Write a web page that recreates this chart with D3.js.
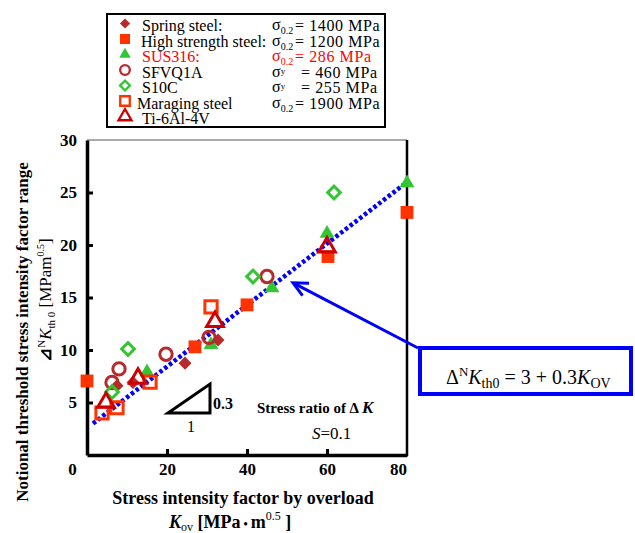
<!DOCTYPE html>
<html>
<head>
<meta charset="utf-8">
<script src="https://cdn.jsdelivr.net/npm/d3@7"></script>
<style>
  body { margin: 0; background: #fff; }
  svg { display: block; font-family: 'Liberation Serif', 'Times New Roman', serif; }
</style>
</head>
<body>
<svg id="chart" width="635" height="533"></svg>
<script>
// series values (K_ov, notional dKth0)
const springX = [7.5, 11.5, 24.5, 32.75];
const springY = [6.6, 6.9, 8.75, 10.95];
const highX = [0, 27, 40, 60.25, 80];
const highY = [7.05, 10.3, 14.3, 18.9, 23.1];
const susX = [15, 31, 46.25, 60, 80];
const susY = [7.9, 10.5, 15.9, 21.1, 25.9];
const sfvqX = [6.25, 8, 19.75, 30.5, 45];
const sfvqY = [6.9, 8.2, 9.6, 11.2, 17.0];
const s10cX = [6.25, 10.25, 41.5, 61.75];
const s10cY = [6.0, 10.1, 17.0, 25.0];
const maragingX = [3.75, 7.5, 15.75, 31];
const maragingY = [4.0, 4.5, 6.95, 14.1];
const tiX = [4.75, 12.75, 32, 60];
const tiY = [5.0, 7.3, 12.7, 19.8];

// fit line (dotted)
const fitX = [1.5, 79];
const fitY = [3.0, 25.7];

const xTicks = [0, 20, 40, 60, 80];
const yTicks = [5, 10, 15, 20, 25, 30];

const materials = ['Spring steel:', 'High strength steel:', 'SUS316:', 'SFVQ1A', 'S10C', 'Maraging steel', 'Ti-6Al-4V'];
const strengthSub = ['0.2', '0.2', '0.2', 'y', 'y', '0.2', null];
const strengthVal = ['= 1400 MPa', '= 1200 MPa', '= 286 MPa', '= 460 MPa', '= 255 MPa', '= 1900 MPa', null];

const series = [
  { xs: springX, ys: springY, shape: 'diamond', fill: '#b8292b', stroke: 'none', size: 85 },
  { xs: highX, ys: highY, shape: 'square', fill: '#ff3300', stroke: 'none', size: 165 },
  { xs: susX, ys: susY, shape: 'triangle', fill: '#33c633', stroke: 'none', size: 95 },
  { xs: sfvqX, ys: sfvqY, shape: 'circle', fill: 'none', stroke: '#b8292b', size: 120 },
  { xs: s10cX, ys: s10cY, shape: 'diamond', fill: 'none', stroke: '#33c633', size: 80 },
  { xs: maragingX, ys: maragingY, shape: 'square', fill: 'none', stroke: '#ff3300', size: 150 },
  { xs: tiX, ys: tiY, shape: 'triangle', fill: 'none', stroke: '#cc0000', size: 120 },
];

const svg = d3.select('#chart');
const x = d3.scaleLinear().domain([0, 80]).range([87, 407]);
const y = d3.scaleLinear().domain([0, 30]).range([455, 140]);

const symbolType = { square: d3.symbolSquare, diamond: d3.symbolSquare, triangle: d3.symbolTriangle, circle: d3.symbolCircle };

function drawMark(g, s, px, py, scale) {
  const path = d3.symbol().type(symbolType[s.shape]).size(s.size * scale * scale)();
  g.append('path')
    .attr('d', path)
    .attr('transform', `translate(${px},${py})${s.shape === 'diamond' ? ' rotate(45)' : ''}`)
    .attr('fill', s.fill)
    .attr('stroke', s.stroke)
    .attr('stroke-width', s.stroke === 'none' ? 0 : 3 * scale);
}

// frame
svg.append('line').attr('x1', x(0)).attr('x2', x(80)).attr('y1', y(30)).attr('y2', y(30))
  .attr('stroke', '#555').attr('stroke-width', 1);
svg.append('line').attr('x1', x(80)).attr('x2', x(80)).attr('y1', y(30)).attr('y2', y(0) + 1)
  .attr('stroke', '#000').attr('stroke-width', 2.5);

// y axis (ticks inside)
const yAxis = svg.append('g')
  .attr('transform', `translate(${x(0)},0)`)
  .call(d3.axisLeft(y).tickValues(yTicks).tickSize(-6).tickSizeOuter(0).tickPadding(10));
yAxis.attr('font-family', null);
yAxis.select('.domain').attr('stroke-width', 3.5);
yAxis.selectAll('.tick line').attr('stroke-width', 3);
yAxis.selectAll('.tick').filter((d) => d === 30).select('line').remove();
yAxis.selectAll('text').attr('font-size', 17).attr('font-weight', 'bold');

// x axis (ticks inside)
const xAxis = svg.append('g')
  .attr('transform', `translate(0,${y(0)})`)
  .call(d3.axisBottom(x).tickValues(xTicks).tickSize(-6).tickSizeOuter(0).tickPadding(8));
xAxis.attr('font-family', null);
xAxis.select('.domain').attr('stroke-width', 3.5);
xAxis.selectAll('.tick line').attr('stroke-width', 3);
xAxis.selectAll('.tick').filter((d) => d === 0 || d === 80).select('line').remove();
xAxis.selectAll('text').attr('font-size', 17).attr('font-weight', 'bold')
  .attr('dx', (d) => (d === 0 ? -15 : d === 80 ? -9 : 0));

// fitted line
svg.append('line')
  .attr('x1', x(fitX[0])).attr('y1', y(fitY[0]))
  .attr('x2', x(fitX[1])).attr('y2', y(fitY[1]))
  .attr('stroke', '#0000ff').attr('stroke-width', 4.5)
  .attr('stroke-dasharray', '3.5,2.5');

// data marks
const marks = svg.append('g');
series.forEach((s) => {
  s.xs.forEach((v, i) => drawMark(marks, s, x(v), y(s.ys[i]), 1));
});

// slope triangle
const triX = [20.25, 30.75];
const triY = [4.0, 6.75];
svg.append('path')
  .attr('d', `M${x(triX[0])},${y(triY[0])}L${x(triX[1])},${y(triY[0])}L${x(triX[1])},${y(triY[1])}Z`)
  .attr('fill', 'none').attr('stroke', '#000').attr('stroke-width', 3).attr('stroke-linejoin', 'miter');
svg.append('text').attr('x', x(triX[1]) + 3).attr('y', y(triY[0]) - 4)
  .attr('font-size', 16).attr('font-weight', 'bold').text('0.3');
svg.append('text').attr('x', (x(triX[0]) + x(triX[1])) / 2 + 2).attr('y', y(triY[0]) + 19)
  .attr('text-anchor', 'middle').attr('font-size', 16).text('1');

// stress ratio note
const note = svg.append('text').attr('x', 257).attr('y', 413)
  .attr('font-size', 15).attr('font-weight', 'bold');
note.append('tspan').text('Stress ratio of  Δ ');
note.append('tspan').attr('font-style', 'italic').attr('font-size', 17).text('K');
const sNote = svg.append('text').attr('x', 312).attr('y', 439).attr('font-size', 17);
sNote.append('tspan').attr('font-style', 'italic').text('S');
sNote.append('tspan').text('=0.1');

// arrow from equation box to the line
const arrowTip = [51.5, 16.4];
const arrowTail = [418, 348];
const tip = [x(arrowTip[0]), y(arrowTip[1])];
svg.append('line').attr('x1', arrowTail[0]).attr('y1', arrowTail[1])
  .attr('x2', tip[0] + 2).attr('y2', tip[1] + 1)
  .attr('stroke', '#0000ff').attr('stroke-width', 3);
const ang = Math.atan2(arrowTail[1] - tip[1], arrowTail[0] - tip[0]);
const head = [ang + 0.45, ang - 0.45].map((a) => [tip[0] + 16 * Math.cos(a), tip[1] + 16 * Math.sin(a)]);
svg.append('path')
  .attr('d', `M${head[0][0]},${head[0][1]}L${tip[0]},${tip[1]}L${head[1][0]},${head[1][1]}`)
  .attr('fill', 'none').attr('stroke', '#0000ff').attr('stroke-width', 3);

// equation box
svg.append('rect').attr('x', 420).attr('y', 348).attr('width', 211).attr('height', 46)
  .attr('fill', '#fff').attr('stroke', '#0000ff').attr('stroke-width', 4);
const eq = svg.append('text').attr('x', 446).attr('y', 384).attr('font-size', 20);
eq.append('tspan').text('Δ');
eq.append('tspan').attr('font-size', 13).attr('dy', -8).text('N');
eq.append('tspan').attr('font-style', 'italic').attr('dy', 8).text('K');
eq.append('tspan').attr('font-size', 14).attr('dy', 4).text('th0');
eq.append('tspan').attr('dy', -4).text(' = 3 + 0.3');
eq.append('tspan').attr('font-style', 'italic').text('K');
eq.append('tspan').attr('font-size', 14).attr('dy', 4).text('OV');

// x axis title
svg.append('text').attr('x', 243).attr('y', 504).attr('text-anchor', 'middle')
  .attr('font-size', 18).attr('font-weight', 'bold').text('Stress intensity factor by overload');
const xt2 = svg.append('text').attr('x', 169).attr('y', 528).attr('font-size', 18).attr('font-weight', 'bold');
xt2.append('tspan').attr('font-style', 'italic').text('K');
xt2.append('tspan').attr('font-size', 12).attr('font-weight', 'normal').attr('dy', 3).text('ov');
xt2.append('tspan').attr('dy', -3).text('  [MPa');
xt2.append('tspan').text(' \u2022 ').attr('font-size', 12);
xt2.append('tspan').text('m');
xt2.append('tspan').attr('font-size', 12).attr('font-weight', 'normal').attr('dy', -8).text('0.5');
xt2.append('tspan').attr('dy', 8).text(' ]');

// y axis title
svg.append('text').attr('transform', 'translate(28,332) rotate(-90)').attr('text-anchor', 'middle')
  .attr('font-size', 17).attr('font-weight', 'bold').text('Notional threshold stress intensity factor range');
const yt2 = svg.append('text').attr('transform', 'translate(51,300) rotate(-90)').attr('text-anchor', 'middle')
  .attr('font-size', 17);
yt2.append('tspan').attr('font-weight', 'bold').text('⊿');
yt2.append('tspan').attr('font-size', 11).attr('dy', -6).text('N');
yt2.append('tspan').attr('font-style', 'italic').attr('dy', 6).text('K');
yt2.append('tspan').attr('font-size', 11).attr('dy', 4).text('th 0');
yt2.append('tspan').attr('dy', -4).text(' [MPam');
yt2.append('tspan').attr('font-size', 10).attr('dy', -7).text('0.5');
yt2.append('tspan').attr('dy', 7).text(']');

// legend
const legend = svg.append('g');
legend.append('rect').attr('x', 107).attr('y', 14).attr('width', 278).attr('height', 113)
  .attr('fill', '#fff').attr('stroke', '#000').attr('stroke-width', 2);
const rowY = d3.scaleLinear().domain([0, 6]).range([31, 124]);
const textX = [142, 141, 142, 142, 142, 137, 142];
materials.forEach((name, i) => {
  const s = series[i];
  const red = i === 2;
  drawMark(legend, s, 125, rowY(i) - 7.5, 0.78);
  legend.append('text').attr('x', textX[i]).attr('y', rowY(i)).attr('font-size', 16)
    .attr('fill', red ? '#ff0000' : '#000').text(name);
  if (strengthSub[i]) {
    const t = legend.append('text').attr('x', 272).attr('y', rowY(i) - 1).attr('font-size', 16)
      .attr('fill', red ? '#ff0000' : '#000');
    t.append('tspan').text('σ');
    t.append('tspan').attr('font-size', strengthSub[i] === 'y' ? 9 : 10).attr('dy', strengthSub[i] === 'y' ? -3 : 4).text(strengthSub[i]);
    legend.append('text').attr('x', strengthSub[i] === 'y' ? 301 : 295).attr('y', rowY(i)).attr('font-size', 16)
      .attr('letter-spacing', 0.6)
      .attr('fill', red ? '#ff0000' : '#000').text(strengthVal[i]);
  }
});
legend.append('line').attr('x1', 107).attr('x2', 385).attr('y1', 127).attr('y2', 127)
  .attr('stroke', '#000').attr('stroke-width', 2);
</script>
</body>
</html>
